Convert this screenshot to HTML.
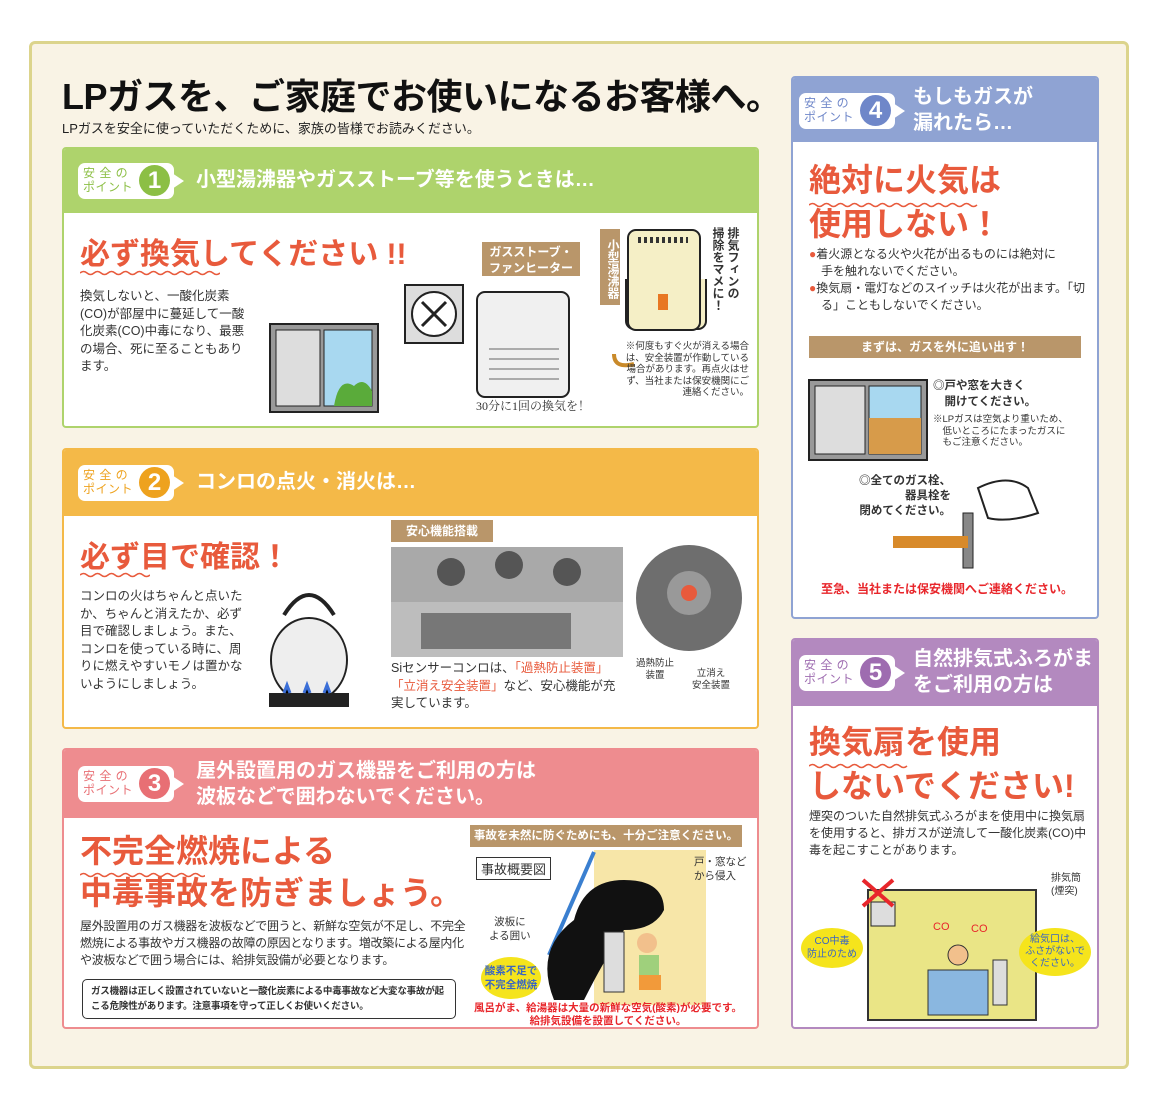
<!DOCTYPE html>
<html><head><meta charset="utf-8">
<style>
*{margin:0;padding:0;box-sizing:border-box}
body{width:1167px;height:1112px;background:#fff;position:relative;overflow:hidden;font-family:"Liberation Sans","Noto Sans CJK JP",sans-serif;color:#333}
.a{position:absolute}
.panel{left:29px;top:41px;width:1100px;height:1028px;background:#f9f3e5;border:3px solid #dcd48c;border-radius:6px}
.box{position:absolute;background:#fff;border:2px solid;border-radius:4px;overflow:hidden}
.hd{position:absolute;left:0;top:0;right:0}
.badge{position:absolute;background:#fff;border-radius:7px;width:96px;height:36px}
.badge .t{position:absolute;left:5px;top:3px;font-size:12px;line-height:14px;letter-spacing:0.5px}
.badge .n{position:absolute;left:61px;top:2px;width:31px;height:31px;border-radius:50%;color:#fff;font-weight:bold;font-size:24px;text-align:center;line-height:31px}
.badge .ar{position:absolute;left:94px;top:10px;width:0;height:0;border-top:8px solid transparent;border-bottom:8px solid transparent;border-left:12px solid #fff}
.ht{position:absolute;color:#fff;font-weight:bold;font-size:20px;line-height:26px}
.red{color:#e85a3c;font-weight:bold}
.wave{position:absolute;height:6px}
.txt{position:absolute;font-size:12.5px;line-height:17.5px;color:#333}
.tag{position:absolute;background:#b9966a;color:#fff;font-size:12px;font-weight:bold;text-align:center}
</style></head><body>
<div class="a panel"></div>
<div class="a" style="left:62px;top:68px;font-size:36px;font-weight:bold;color:#111;letter-spacing:-0.5px">LPガスを、ご家庭でお使いになるお客様へ。</div>
<div class="a" style="left:62px;top:118px;font-size:13px;color:#222">LPガスを安全に使っていただくために、家族の皆様でお読みください。</div>

<!-- S1 -->
<div class="box" style="left:62px;top:147px;width:697px;height:281px;border-color:#aed36c">
 <div class="hd" style="height:64px;background:#aed36c"></div>
 <div class="badge" style="left:14px;top:14px"><div class="t" style="color:#8cbf45">安 全 の<br>ポイント</div><div class="n" style="background:#8cbf45">1</div><div class="ar"></div></div>
 <div class="ht" style="left:132px;top:18px">小型湯沸器やガスストーブ等を使うときは…</div>
 <div class="a red" style="left:16px;top:80px;font-size:30px">必ず換気してください !!</div>
 <svg class="wave" style="left:16px;top:121px" width="140" height="6"><path d="M0 3 Q3.5 0 7 3 T14 3 T21 3 T28 3 T35 3 T42 3 T49 3 T56 3 T63 3 T70 3 T77 3 T84 3 T91 3 T98 3 T105 3 T112 3 T119 3 T126 3 T133 3 T140 3" stroke="#e85a3c" fill="none" stroke-width="1.5"/></svg>
 <div class="txt" style="left:16px;top:139px;width:170px">換気しないと、一酸化炭素(CO)が部屋中に蔓延して一酸化炭素(CO)中毒になり、最悪の場合、死に至ることもあります。</div>
 <svg class="a" style="left:200px;top:130px" width="550" height="150">
  <rect x="6" y="45" width="108" height="88" fill="#999" stroke="#222" stroke-width="2"/>
  <rect x="12" y="51" width="44" height="76" fill="#ddd" stroke="#222"/><rect x="60" y="51" width="48" height="76" fill="#a8d8f0" stroke="#222"/>
  <path d="M70 127 q5-30 20-20 q10 -10 18 5 v15z" fill="#5aab3a"/>
  <rect x="141" y="6" width="58" height="58" fill="#ddd" stroke="#222" stroke-width="2"/><circle cx="170" cy="35" r="22" fill="#fff" stroke="#222" stroke-width="2"/>
  <path d="M170 35 l-12-12 M170 35 l12-12 M170 35 l-12 12 M170 35 l12 12" stroke="#222" stroke-width="3"/>
  <rect x="213" y="13" width="92" height="105" rx="8" fill="#f0f0f0" stroke="#222" stroke-width="2"/>
  <path d="M225 70 h70 M225 80 h70 M225 90 h70 M225 100 h70" stroke="#666"/>
  <rect x="362" y="-50" width="80" height="100" rx="8" fill="#f5efc6" stroke="#222" stroke-width="2"/>
  <path d="M350 75 q0 15 20 10" stroke="#c98a2a" stroke-width="4" fill="none"/>
 </svg>
 <div class="tag" style="left:418px;top:93px;width:98px;height:34px;line-height:16px;padding-top:2px">ガスストーブ・<br>ファンヒーター</div>
 <div class="a" style="left:412px;top:248px;font-size:12px;font-family:'Liberation Serif','Noto Serif CJK SC',serif">30分に1回の換気を！</div>
 <div class="tag" style="left:536px;top:80px;width:20px;height:76px;line-height:14px;writing-mode:vertical-rl;padding-top:4px">小型湯沸器</div>
 <svg class="a" style="left:560px;top:75px" width="80" height="110"><rect x="4" y="6" width="72" height="100" rx="8" fill="#f5efc6" stroke="#222" stroke-width="2"/><path d="M14 16 h50" stroke="#333" stroke-width="6" stroke-dasharray="3 3"/><rect x="34" y="70" width="10" height="16" fill="#e87722"/></svg>
 <div class="a" style="left:646px;top:78px;font-size:12px;line-height:15px;writing-mode:vertical-rl;font-weight:bold;height:110px">排気フィンの<br>掃除をマメに！</div>
 <div class="a" style="left:555px;top:192px;width:130px;font-size:9.5px;line-height:11.5px;text-align:right">※何度もすぐ火が消える場合は、安全装置が作動している場合があります。再点火はせず、当社または保安機関にご連絡ください。</div>
</div>

<!-- S2 -->
<div class="box" style="left:62px;top:448px;width:697px;height:281px;border-color:#f4b948">
 <div class="hd" style="height:66px;background:#f4b948"></div>
 <div class="badge" style="left:14px;top:15px"><div class="t" style="color:#eea21e">安 全 の<br>ポイント</div><div class="n" style="background:#eea21e">2</div><div class="ar"></div></div>
 <div class="ht" style="left:132px;top:19px">コンロの点火・消火は…</div>
 <div class="a red" style="left:16px;top:82px;font-size:30px">必ず目で確認！</div>
 <svg class="wave" style="left:16px;top:122px" width="70" height="6"><path d="M0 3 Q3.5 0 7 3 T14 3 T21 3 T28 3 T35 3 T42 3 T49 3 T56 3 T63 3 T70 3" stroke="#e85a3c" fill="none" stroke-width="1.5"/></svg>
 <div class="txt" style="left:16px;top:138px;width:165px">コンロの火はちゃんと点いたか、ちゃんと消えたか、必ず目で確認しましょう。また、コンロを使っている時に、周りに燃えやすいモノは置かないようにしましょう。</div>
 <svg class="a" style="left:190px;top:125px" width="110" height="140"><path d="M30 40 q25-40 50 0" stroke="#222" stroke-width="4" fill="none"/><ellipse cx="55" cy="85" rx="38" ry="42" fill="#eee" stroke="#222" stroke-width="2"/><rect x="15" y="118" width="80" height="14" fill="#222"/><path d="M30 118 l3-8 3 8 M50 118 l3-8 3 8 M70 118 l3-8 3 8" stroke="#3b6fd8" stroke-width="3"/></svg>
 <div class="tag" style="left:327px;top:70px;width:102px;height:22px;line-height:22px">安心機能搭載</div>
 <svg class="a" style="left:327px;top:97px" width="232" height="110"><rect width="232" height="110" fill="#bdbdbd"/><rect y="0" width="232" height="55" fill="#a9a9a9"/><rect x="30" y="66" width="150" height="36" fill="#777"/><circle cx="60" cy="25" r="14" fill="#555"/><circle cx="118" cy="18" r="14" fill="#555"/><circle cx="176" cy="25" r="14" fill="#555"/></svg>
 <div class="txt" style="left:327px;top:210px;width:235px">Siセンサーコンロは、<span style="color:#e85a3c">「過熱防止装置」「立消え安全装置」</span>など、安心機能が充実しています。</div>
 <svg class="a" style="left:570px;top:93px" width="110" height="110"><circle cx="55" cy="55" r="53" fill="#6e6e6e"/><circle cx="55" cy="50" r="22" fill="#999"/><circle cx="55" cy="50" r="8" fill="#e85a3c"/></svg>
 <div class="a" style="left:572px;top:208px;font-size:9.5px;line-height:12px;text-align:center">過熱防止<br>装置</div>
 <div class="a" style="left:628px;top:218px;font-size:9.5px;line-height:12px;text-align:center">立消え<br>安全装置</div>
</div>

<!-- S3 -->
<div class="box" style="left:62px;top:748px;width:697px;height:281px;border-color:#ee8c8f">
 <div class="hd" style="height:68px;background:#ee8c8f"></div>
 <div class="badge" style="left:14px;top:16px"><div class="t" style="color:#e86f74">安 全 の<br>ポイント</div><div class="n" style="background:#e86f74">3</div><div class="ar"></div></div>
 <div class="ht" style="left:132px;top:8px">屋外設置用のガス機器をご利用の方は<br>波板などで囲わないでください。</div>
 <div class="a red" style="left:16px;top:80px;font-size:32px;line-height:42px">不完全燃焼による<br>中毒事故を防ぎましょう。</div>
 <svg class="wave" style="left:16px;top:122px" width="125" height="6"><path d="M0 3 Q3.5 0 7 3 T14 3 T21 3 T28 3 T35 3 T42 3 T49 3 T56 3 T63 3 T70 3 T77 3 T84 3 T91 3 T98 3 T105 3 T112 3 T119 3 T126 3" stroke="#e85a3c" fill="none" stroke-width="1.5"/></svg>
 <div class="txt" style="left:16px;top:168px;width:390px;font-size:12px;line-height:17px;letter-spacing:-0.3px">屋外設置用のガス機器を波板などで囲うと、新鮮な空気が不足し、不完全燃焼による事故やガス機器の故障の原因となります。増改築による屋内化や波板などで囲う場合には、給排気設備が必要となります。</div>
 <div class="a" style="left:18px;top:229px;width:374px;height:40px;border:1.5px solid #333;border-radius:5px;font-size:9.5px;line-height:15px;padding:4px 8px;font-weight:bold;color:#333;letter-spacing:-0.2px">ガス機器は正しく設置されていないと一酸化炭素による中毒事故など大変な事故が起こる危険性があります。注意事項を守って正しくお使いください。</div>
 <div class="tag" style="left:406px;top:75px;width:272px;height:22px;line-height:22px;font-size:11.5px">事故を未然に防ぐためにも、十分ご注意ください。</div>
 <div class="a" style="left:412px;top:107px;border:1px solid #333;padding:1px 4px;font-size:13px">事故概要図</div>
 <svg class="a" style="left:420px;top:100px" width="260" height="155"><path d="M110 0 v155 h112 v-155z" fill="#f7e6a8"/><path d="M65 105 L110 2" stroke="#3a7fd0" stroke-width="4"/><path d="M70 150 q-20-50 20-80 q10-40 50-40 q40 0 40 30 q-10 20-40 20 q-20 30-40 70z" fill="#111"/><rect x="120" y="82" width="20" height="60" fill="#ddd" stroke="#333"/><circle cx="163" cy="93" r="10" fill="#f2c08c"/><rect x="155" y="105" width="20" height="30" fill="#9fd07c"/><path d="M155 125 h22 v15 h-22z" fill="#f29a3a"/></svg>
 <div class="a" style="left:630px;top:105px;font-size:10.5px;line-height:14px">戸・窓など<br>から侵入</div>
 <div class="a" style="left:425px;top:165px;font-size:10.5px;line-height:14px;text-align:center">波板に<br>よる囲い</div>
 <div class="a" style="left:417px;top:207px;width:60px;height:42px;border-radius:50%;background:#f5e41c;color:#3a66c2;font-size:10.5px;line-height:14px;text-align:center;padding-top:7px;font-weight:bold">酸素不足で<br>不完全燃焼</div>
 <div class="a" style="left:404px;top:252px;width:280px;font-size:10.5px;line-height:13px;text-align:center;color:#e8262b;font-weight:bold">風呂がま、給湯器は大量の新鮮な空気(酸素)が必要です。<br>給排気設備を設置してください。</div>
</div>

<!-- S4 -->
<div class="box" style="left:791px;top:76px;width:308px;height:543px;border-color:#8fa3d3">
 <div class="hd" style="height:64px;background:#8fa3d3"></div>
 <div class="badge" style="left:6px;top:15px"><div class="t" style="color:#6f87c9">安 全 の<br>ポイント</div><div class="n" style="background:#6f87c9">4</div><div class="ar"></div></div>
 <div class="ht" style="left:120px;top:6px">もしもガスが<br>漏れたら…</div>
 <div class="a red" style="left:16px;top:80px;font-size:32px;line-height:44px">絶対に火気は<br>使用しない！</div>
 <svg class="wave" style="left:16px;top:124px" width="170" height="6"><path d="M0 3 Q3.5 0 7 3 T14 3 T21 3 T28 3 T35 3 T42 3 T49 3 T56 3 T63 3 T70 3 T77 3 T84 3 T91 3 T98 3 T105 3 T112 3 T119 3 T126 3 T133 3 T140 3 T147 3 T154 3 T161 3 T168 3" stroke="#e85a3c" fill="none" stroke-width="1.5"/></svg>
 <div class="txt" style="left:16px;top:168px;width:284px;font-size:12px;line-height:17px"><span style="color:#e85a3c">●</span>着火源となる火や火花が出るものには絶対に<br>　手を触れないでください。<br><span style="color:#e85a3c">●</span>換気扇・電灯などのスイッチは火花が出ます。「切<br>　る」こともしないでください。</div>
 <div class="tag" style="left:16px;top:258px;width:272px;height:22px;line-height:22px">まずは、ガスを外に追い出す！</div>
 <svg class="a" style="left:14px;top:300px" width="125" height="85"><rect x="2" y="2" width="118" height="80" fill="#999" stroke="#222" stroke-width="2"/><rect x="8" y="8" width="50" height="68" fill="#ddd" stroke="#222"/><rect x="62" y="8" width="52" height="68" fill="#a8d8f0" stroke="#222"/><rect x="62" y="40" width="52" height="36" fill="#d79b4a"/></svg>
 <div class="a" style="left:140px;top:300px;font-size:11.5px;line-height:16px;font-weight:bold">◎戸や窓を大きく<br>　開けてください。</div>
 <div class="a" style="left:140px;top:336px;font-size:9.5px;line-height:11.5px">※LPガスは空気より重いため、<br>　低いところにたまったガスに<br>　もご注意ください。</div>
 <div class="a" style="left:66px;top:396px;font-size:11.5px;line-height:15px;font-weight:bold;text-align:right">◎全てのガス栓、<br>器具栓を<br>閉めてください。</div>
 <svg class="a" style="left:95px;top:390px" width="160" height="110"><path d="M90 20 q30-15 50 0 l10 25 q-30 10-50 5z" fill="#fff" stroke="#222" stroke-width="2"/><rect x="75" y="45" width="10" height="55" fill="#888" stroke="#222"/><rect x="5" y="68" width="75" height="12" fill="#d88a2a"/></svg>
 <div class="a" style="left:28px;top:502px;font-size:12px;color:#e8262b;font-weight:bold">至急、当社または保安機関へご連絡ください。</div>
</div>

<!-- S5 -->
<div class="box" style="left:791px;top:638px;width:308px;height:391px;border-color:#b389bf">
 <div class="hd" style="height:66px;background:#b389bf"></div>
 <div class="badge" style="left:6px;top:15px"><div class="t" style="color:#9e6cb0">安 全 の<br>ポイント</div><div class="n" style="background:#9e6cb0">5</div><div class="ar"></div></div>
 <div class="ht" style="left:120px;top:6px">自然排気式ふろがま<br>をご利用の方は</div>
 <div class="a red" style="left:16px;top:80px;font-size:32px;line-height:44px">換気扇を使用<br>しないでください!</div>
 <svg class="wave" style="left:16px;top:123px" width="100" height="6"><path d="M0 3 Q3.5 0 7 3 T14 3 T21 3 T28 3 T35 3 T42 3 T49 3 T56 3 T63 3 T70 3 T77 3 T84 3 T91 3 T98 3" stroke="#e85a3c" fill="none" stroke-width="1.5"/></svg>
 <div class="txt" style="left:16px;top:168px;width:284px;font-size:12px;line-height:17px">煙突のついた自然排気式ふろがまを使用中に換気扇を使用すると、排ガスが逆流して一酸化炭素(CO)中毒を起こすことがあります。</div>
 <svg class="a" style="left:50px;top:230px" width="200" height="158"><rect x="25" y="20" width="168" height="130" fill="#eae586" stroke="#333" stroke-width="2"/><rect x="28" y="32" width="24" height="24" fill="#ddd" stroke="#222"/><path d="M20 10 l30 26 M50 10 l-30 26" stroke="#e8262b" stroke-width="4"/><rect x="85" y="100" width="60" height="45" fill="#8ab7e0" stroke="#333"/><circle cx="115" cy="85" r="10" fill="#f2c08c" stroke="#333"/><rect x="150" y="90" width="14" height="45" fill="#ddd" stroke="#333"/><text x="90" y="60" fill="#e8262b" font-size="11">CO</text><text x="128" y="62" fill="#e8262b" font-size="11">CO</text></svg>
 <div class="a" style="left:8px;top:288px;width:62px;height:40px;border-radius:50%;background:#f5e41c;color:#3a66c2;font-size:10px;line-height:13px;text-align:center;padding-top:7px">CO中毒<br>防止のため</div>
 <div class="a" style="left:226px;top:288px;width:72px;height:48px;border-radius:50%;background:#f5e41c;color:#3a66c2;font-size:10px;line-height:12px;text-align:center;padding-top:6px">給気口は、<br>ふさがないで<br>ください。</div>
 <div class="a" style="left:258px;top:232px;font-size:10px;line-height:13px">排気筒<br>(煙突)</div>
</div>
</body></html>
